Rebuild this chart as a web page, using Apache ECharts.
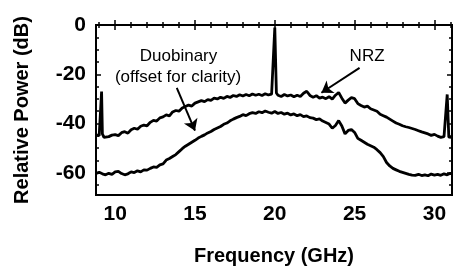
<!DOCTYPE html>
<html>
<head>
<meta charset="utf-8">
<script src="https://cdn.jsdelivr.net/npm/echarts@6/dist/echarts.min.js"></script>
<style>
html,body{margin:0;padding:0;background:#fff;}
#c{width:453px;height:271px;}
</style>
</head>
<body>
<div id="c"></div>
<script>
// ---- data ----
var nrzFreq = [8.8,9.0,9.1,9.15,9.2,9.3,9.4,9.6,9.8,10.0,10.2,10.4,10.6,10.8,11.0,11.2,11.4,11.6,11.8,12.0,12.2,12.4,12.6,12.8,13.0,13.2,13.4,13.6,13.8,14.0,14.2,14.4,14.6,14.8,15.0,15.2,15.4,15.6,15.8,16.0,16.2,16.4,16.6,16.8,17.0,17.2,17.4,17.6,17.8,18.0,18.2,18.4,18.6,18.8,19.0,19.2,19.4,19.6,19.8,19.9,20.0,20.1,20.2,20.4,20.6,20.8,21.0,21.2,21.4,21.6,21.8,22.0,22.2,22.4,22.6,22.8,23.0,23.2,23.4,23.6,23.8,24.0,24.2,24.4,24.6,24.8,25.0,25.2,25.4,25.6,25.8,26.0,26.2,26.4,26.6,26.8,27.0,27.2,27.4,27.6,27.8,28.0,28.2,28.4,28.6,28.8,29.0,29.2,29.4,29.6,29.8,30.0,30.2,30.4,30.6,30.7,30.8,30.9,31.0,31.1];
var nrzPower = [-44.6,-44.9,-44.4,-27.0,-44.2,-45.6,-45.9,-45.3,-44.7,-44.5,-44.9,-43.7,-43.3,-43.9,-42.5,-41.9,-42.3,-41.1,-40.6,-40.9,-39.5,-38.7,-39.0,-37.7,-37.3,-36.5,-36.9,-35.3,-34.7,-35.0,-33.7,-33.1,-32.5,-32.9,-31.7,-31.2,-30.7,-31.1,-30.3,-30.6,-29.7,-30.0,-29.3,-29.8,-29.0,-29.4,-28.6,-29.0,-28.3,-28.8,-28.2,-28.7,-28.0,-28.5,-28.1,-28.6,-27.9,-28.4,-28.1,-27.6,-1.0,-27.6,-28.5,-29.0,-28.2,-28.8,-28.4,-29.1,-28.5,-29.0,-27.7,-26.9,-28.6,-29.3,-28.7,-29.7,-29.3,-29.9,-29.1,-30.1,-28.5,-27.4,-29.7,-31.7,-30.5,-29.5,-29.9,-31.9,-32.7,-33.3,-32.9,-34.0,-34.5,-35.0,-36.2,-36.8,-37.4,-38.2,-39.0,-39.8,-40.3,-40.9,-41.3,-41.6,-42.0,-42.4,-42.9,-43.4,-43.8,-44.2,-44.8,-44.4,-45.1,-45.6,-45.3,-45.7,-28.2,-45.5,-45.4,-45.6];

var duoFreq = [8.8,9.0,9.2,9.4,9.6,9.8,10.0,10.2,10.4,10.6,10.8,11.0,11.2,11.4,11.6,11.8,12.0,12.2,12.4,12.6,12.8,13.0,13.2,13.4,13.6,13.8,14.0,14.2,14.4,14.6,14.8,15.0,15.2,15.4,15.6,15.8,16.0,16.2,16.4,16.6,16.8,17.0,17.2,17.4,17.6,17.8,18.0,18.2,18.4,18.6,18.8,19.0,19.2,19.4,19.6,19.8,20.0,20.2,20.4,20.6,20.8,21.0,21.2,21.4,21.6,21.8,22.0,22.2,22.4,22.6,22.8,23.0,23.2,23.4,23.6,23.8,24.0,24.2,24.4,24.6,24.8,25.0,25.2,25.4,25.6,25.8,26.0,26.2,26.4,26.6,26.8,27.0,27.2,27.4,27.6,27.8,28.0,28.2,28.4,28.6,28.8,29.0,29.2,29.4,29.6,29.8,30.0,30.2,30.4,30.6,30.8,31.0,31.1];
var duoPower = [-60.2,-59.8,-60.4,-60.8,-60.2,-60.6,-59.6,-59.4,-60.3,-60.8,-60.4,-59.6,-59.9,-59.2,-59.6,-58.8,-58.9,-58.2,-57.6,-57.8,-56.8,-56.4,-54.8,-54.2,-53.4,-52.6,-51.4,-50.2,-49.2,-48.4,-47.6,-46.8,-45.9,-45.2,-44.6,-43.8,-43.2,-42.4,-41.8,-41.2,-40.3,-39.8,-38.9,-38.2,-37.6,-37.1,-36.4,-36.8,-36.0,-35.6,-35.9,-35.2,-35.6,-34.9,-35.4,-35.8,-35.1,-35.9,-35.5,-36.2,-35.8,-36.5,-36.1,-36.8,-36.4,-37.2,-36.9,-37.6,-37.8,-38.4,-38.1,-39.0,-39.6,-40.2,-41.9,-40.8,-38.8,-41.0,-44.2,-42.8,-42.4,-43.6,-46.0,-46.8,-47.6,-48.4,-49.0,-49.6,-50.6,-51.8,-53.4,-55.8,-57.2,-58.2,-58.8,-59.4,-59.8,-60.2,-60.6,-60.9,-61.0,-60.6,-61.1,-60.8,-61.2,-60.5,-60.9,-60.6,-61.0,-60.4,-60.8,-60.2,-60.5];

var xMajor = [10, 15, 20, 25, 30];
var xMinor = [9, 11, 12, 13, 14, 16, 17, 18, 19, 21, 22, 23, 24, 26, 27, 28, 29, 31];
var yMajor = [0, -20, -40, -60];
var yMinor = [-5, -10, -15, -25, -30, -35, -45, -50, -55, -65];

function zip(a, b) { return a.map(function (v, i) { return [v, b[i]]; }); }

var FONT = 'Liberation Sans, Arial, sans-serif';
var X_MIN = 8.8, X_MAX = 31.1, Y_MIN = -69, Y_MAX = 0;

function xAx(pos, ticks, len, withLabel) {
  var a = {
    type: 'value', position: pos, min: X_MIN, max: X_MAX,
    axisLine: { show: false }, splitLine: { show: false },
    axisTick: { show: true, inside: true, length: len, customValues: ticks, lineStyle: { color: '#000', width: 1.5 } },
    axisLabel: { show: withLabel, customValues: ticks, color: '#000', fontSize: 21, fontWeight: 'bold', fontFamily: FONT, margin: 9 }
  };
  if (withLabel) {
    a.name = 'Frequency (GHz)'; a.nameLocation = 'middle'; a.nameGap = 51;
    a.nameTextStyle = { color: '#000', fontSize: 20, fontWeight: 'bold', fontFamily: FONT };
  }
  return a;
}
function yAx(pos, ticks, len, withLabel) {
  var a = {
    type: 'value', position: pos, min: Y_MIN, max: Y_MAX,
    axisLine: { show: false }, splitLine: { show: false },
    axisTick: { show: true, inside: true, length: len, customValues: ticks, lineStyle: { color: '#000', width: 1.5 } },
    axisLabel: { show: withLabel, customValues: ticks, color: '#000', fontSize: 21, fontWeight: 'bold', fontFamily: FONT, margin: 10 }
  };
  if (withLabel) {
    a.name = 'Relative Power (dB)'; a.nameLocation = 'middle'; a.nameGap = 64;
    a.nameTextStyle = { color: '#000', fontSize: 20, fontWeight: 'bold', fontFamily: FONT };
  }
  return a;
}

var textStyle = { show: true, position: 'inside', color: '#000', fontSize: 17, fontFamily: FONT, formatter: '{b}' };

var chart = echarts.init(document.getElementById('c'), null, { renderer: 'canvas' });
chart.setOption({
  animation: false,
  backgroundColor: '#fff',
  grid: { left: 96, right: 1, top: 25, bottom: 74, show: true, borderColor: '#000', borderWidth: 2, backgroundColor: 'transparent' },
  xAxis: [
    xAx('bottom', xMajor, 5, true),
    xAx('bottom', xMinor, 3, false),
    xAx('top', xMajor, 5, false),
    xAx('top', xMinor, 3, false)
  ],
  yAxis: [
    yAx('left', yMajor, 5, true),
    yAx('left', yMinor, 3, false),
    yAx('right', yMajor, 5, false),
    yAx('right', yMinor, 3, false)
  ],
  series: [
    {
      name: 'NRZ', type: 'line', xAxisIndex: 0, yAxisIndex: 0,
      data: zip(nrzFreq, nrzPower), showSymbol: false, symbol: 'none',
      lineStyle: { color: '#000', width: 2.8 }, clip: true,
      markLine: {
        silent: true, symbol: ['none', 'arrow'], symbolSize: 11,
        lineStyle: { color: '#000', width: 2, type: 'solid' }, label: { show: false },
        data: [
          [{ coord: [25.31, -17.4] }, { coord: [22.92, -27.5] }],
          [{ coord: [13.86, -25.5] }, { coord: [15.0, -42.9] }]
        ]
      },
      markPoint: {
        silent: true, symbol: 'rect', symbolSize: 1, itemStyle: { color: 'rgba(0,0,0,0)' },
        label: textStyle,
        data: [
          { name: 'NRZ', coord: [25.78, -12.8] },
          { name: 'Duobinary', coord: [13.97, -12.8] },
          { name: '(offset for clarity)', coord: [13.94, -21.4] }
        ]
      }
    },
    {
      name: 'Duobinary', type: 'line', xAxisIndex: 0, yAxisIndex: 0,
      data: zip(duoFreq, duoPower), showSymbol: false, symbol: 'none',
      lineStyle: { color: '#000', width: 2.8 }, clip: true
    }
  ]
});
</script>
</body>
</html>
